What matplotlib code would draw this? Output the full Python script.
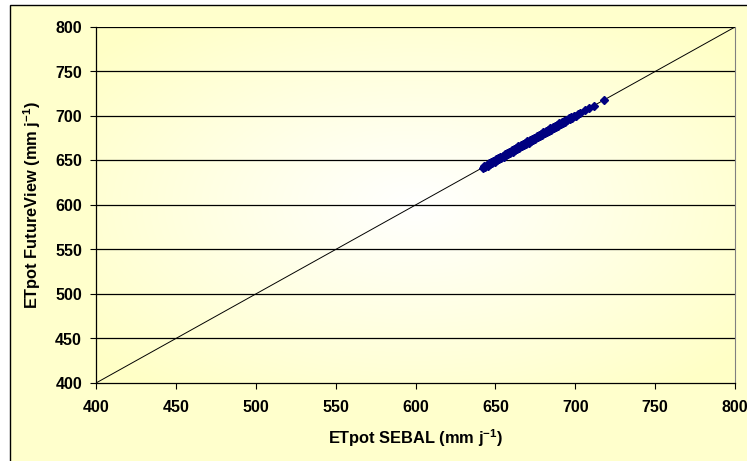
import matplotlib.pyplot as plt
import numpy as np
from matplotlib.patches import Rectangle

plt.rcParams['font.family'] = ['Liberation Sans', 'DejaVu Sans']
plt.rcParams['mathtext.fontset'] = 'custom'
plt.rcParams['mathtext.bf'] = 'Liberation Sans:bold'
plt.rcParams['mathtext.rm'] = 'Liberation Sans:bold'
plt.rcParams['mathtext.default'] = 'bf'

# ETpot values (mm/yr)
sebal = [642.5, 643.1, 643.8, 644.6, 645.2, 646.0, 646.7, 647.3, 648.1, 648.8,
         649.5, 650.2, 650.9, 651.6, 652.3, 653.0, 653.8, 654.5, 655.1, 655.9,
         656.6, 657.2, 658.0, 658.7, 659.4, 660.1, 660.8, 661.5, 662.3, 663.0,
         663.6, 664.4, 665.1, 665.8, 666.5, 667.2, 668.0, 668.6, 669.3, 670.1,
         670.8, 671.5, 672.2, 672.9, 673.7, 674.3, 675.0, 675.8, 676.5, 677.1,
         677.9, 678.6, 679.3, 680.0, 680.8, 681.4, 682.2, 682.9, 683.6, 684.3,
         685.0, 685.8, 686.4, 687.2, 687.9, 688.6, 689.3, 690.0, 690.8, 691.5,
         692.2, 692.9, 693.6, 694.4, 695.0, 695.8, 696.5, 697.3, 698.1, 699.0,
         700.2, 701.5, 703.0, 705.8, 708.9, 711.6, 718.2]
futureview = [641.8, 643.9, 642.6, 645.3, 644.1, 646.9, 645.8, 648.2, 647.0, 649.9,
              648.6, 651.3, 650.0, 652.8, 651.4, 654.1, 653.0, 655.6, 654.3, 657.0,
              655.8, 658.5, 657.1, 660.0, 658.6, 661.4, 660.0, 662.9, 661.5, 664.2,
              662.9, 665.8, 664.3, 667.1, 665.9, 668.6, 667.3, 670.0, 668.7, 671.5,
              670.2, 673.0, 671.6, 674.3, 673.1, 675.8, 674.5, 677.2, 676.0, 678.6,
              677.4, 680.1, 678.9, 681.6, 680.4, 683.0, 681.8, 684.5, 683.3, 686.0,
              684.7, 687.4, 686.2, 688.9, 687.7, 690.3, 689.2, 691.7, 690.7, 693.1,
              692.1, 694.5, 693.6, 696.0, 695.0, 697.3, 696.6, 698.7, 698.3, 700.4,
              700.5, 702.6, 703.6, 706.5, 709.2, 710.8, 718.4]
ticks = [400, 450, 500, 550, 600, 650, 700, 750, 800]
one_to_one = [400, 800]

fig = plt.figure(figsize=(7.47, 4.61), dpi=100)
fig.patch.set_facecolor('white')

# chart area with border
frame = Rectangle((10 / 747, -0.05), 1.0, 1 - 5 / 461 + 0.05,
                  transform=fig.transFigure, facecolor='#FFFFCC',
                  edgecolor='black', linewidth=1.0, zorder=-10)
fig.add_artist(frame)

ax = fig.add_axes([96 / 747, 1 - 383 / 461, (735 - 96) / 747, (383 - 27) / 461])
ax.set_zorder(1)
ax.set_xlim(400, 800)
ax.set_ylim(400, 800)

# radial gradient background
yy, xx = np.mgrid[-1:1:200j, -1:1:300j]
r = np.clip(np.sqrt(xx ** 2 + yy ** 2) / 1.3, 0, 1)
c0 = np.array([1.0, 1.0, 1.0])
c1 = np.array([1.0, 1.0, 0.78])
img = c0 + (c1 - c0) * r[..., None]
ax.imshow(img, extent=[400, 800, 400, 800], aspect='auto', zorder=0)

for t in ticks[1:]:
    ax.axhline(t, color='black', linewidth=0.9, zorder=1)

ax.plot(one_to_one, one_to_one, color='black', linewidth=0.7, zorder=2)
ax.plot(sebal, futureview, linestyle='none', marker='D', markersize=4.5,
        color='#000080', markeredgecolor='#000080', zorder=3)

ax.set_xticks(ticks)
ax.set_yticks(ticks)
ax.tick_params(direction='out', length=4, width=0.8, labelsize=11.5)
ax.tick_params(axis='x', pad=8)
ax.tick_params(axis='y', pad=6)
for lab in ax.get_xticklabels() + ax.get_yticklabels():
    lab.set_fontweight('bold')

for s in ['left', 'bottom']:
    ax.spines[s].set_color('black')
    ax.spines[s].set_linewidth(0.9)
ax.spines['right'].set_color('#808080')
ax.spines['top'].set_visible(False)

ax.set_xlabel('ETpot SEBAL (mm j$^{-1}$)', fontsize=11.8, fontweight='bold', labelpad=9)
ax.set_ylabel('ETpot FutureView (mm j$^{-1}$)', fontsize=11.8, fontweight='bold', labelpad=9)

fig.savefig('out.png', dpi=100)
